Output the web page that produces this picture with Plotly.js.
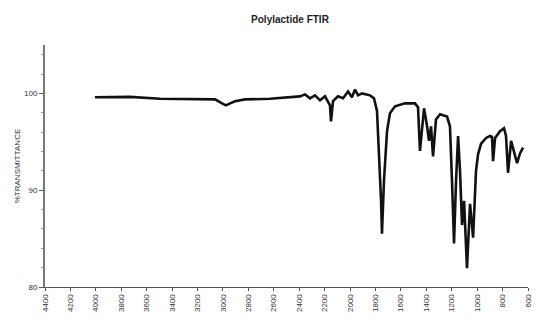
<!DOCTYPE html>
<html>
<head>
<meta charset="utf-8">
<script src="https://cdn.plot.ly/plotly-3.0.1.min.js"></script>
<style>html,body{margin:0;padding:0;background:#fff;}#chart{width:537px;height:323px;}</style>
</head>
<body>
<div id="chart"></div>
<script>
// Wavenumber (cm-1)
const wavenumber = [4007,3731,3495,3180,3062,3007,2976,2944,2905,2826,2630,2394,2354,2315,2276,2236,2197,2158,2150,2134,2095,2055,2016,1985,1961,1937,1906,1843,1812,1788,1772,1756,1749,1733,1709,1686,1646,1568,1489,1465,1450,1434,1418,1394,1379,1363,1347,1324,1292,1237,1214,1198,1182,1166,1150,1135,1119,1103,1080,1056,1032,1009,993,969,930,899,883,875,859,820,789,773,757,733,710,686,663,639];
// % transmittance
const transmittance = [99.6,99.64,99.44,99.38,99.38,98.97,98.77,98.97,99.18,99.38,99.44,99.69,99.9,99.49,99.8,99.28,99.7,98.77,97.1,99.2,99.7,99.5,100.2,99.6,100.4,99.8,100,99.8,99.5,98.2,94.05,88.9,85.5,91,96.1,97.95,98.67,98.97,98.97,98.56,94.05,96.1,98.46,96.6,95.1,96.6,93.5,97.3,97.85,97.6,96.6,91,84.5,91,95.6,92,86.4,88.9,81.95,88.6,85.1,92,93.7,94.8,95.4,95.6,95.5,93,95.4,96.1,96.4,95.6,91.8,95.1,94.05,92.8,93.8,94.4];
const xTicks = [4400,4200,4000,3800,3600,3400,3200,3000,2800,2600,2400,2200,2000,1800,1600,1400,1200,1000,800,600];
const yTicks = [80,90,100];

const trace = {
  x: wavenumber, y: transmittance, type: 'scatter', mode: 'lines',
  line: {color: '#111', width: 2.6}, hoverinfo: 'none'
};
const layout = {
  width: 537, height: 323,
  margin: {l: 45, r: 9, t: 45, b: 36},
  paper_bgcolor: '#fff', plot_bgcolor: '#fff',
  font: {family: 'Liberation Sans, Arial, sans-serif', color: '#333', size: 9},
  showlegend: false,
  title: {text: '<b>Polylactide FTIR</b>', x: 0.54, xanchor: 'center', y: 0.94, yanchor: 'middle',
          font: {size: 10, color: '#222', family: 'Liberation Sans, Arial, sans-serif'}},
  xaxis: {
    range: [4400, 600], tickvals: xTicks, ticktext: xTicks.map(String), tickangle: -90,
    showgrid: false, zeroline: false, showline: true, linecolor: '#555', linewidth: 1,
    ticks: 'outside', ticklen: 3, tickcolor: '#555', tickfont: {size: 8, color: '#333'}
  },
  yaxis: {
    range: [80, 105], tickvals: yTicks, ticktext: yTicks.map(String),
    showgrid: false, zeroline: false, showline: true, linecolor: '#777', linewidth: 2,
    ticks: 'outside', ticklen: 4, tickcolor: '#555', tickfont: {size: 8, color: '#333'},
    minor: {dtick: 2, ticks: 'outside', ticklen: 2, tickcolor: '#999'},
    title: {text: '%TRANSMITTANCE', standoff: 2, font: {size: 8, color: '#333'}}
  }
};
Plotly.newPlot('chart', [trace], layout, {staticPlot: true, displayModeBar: false});
</script>
</body>
</html>
